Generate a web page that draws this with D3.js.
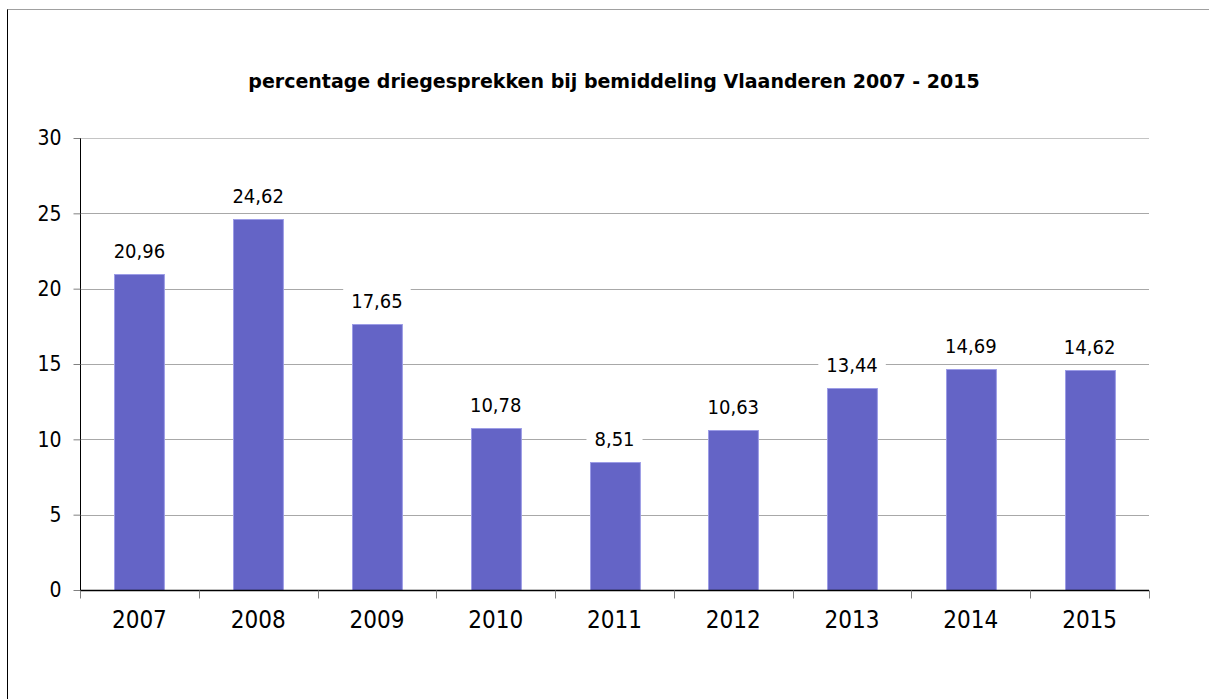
<!DOCTYPE html>
<html>
<head>
<meta charset="utf-8">
<style>
body { margin: 0; background: #fff; }
svg { display: block; font-family: "DejaVu Sans Condensed", "DejaVu Sans", sans-serif; font-stretch: condensed; }
</style>
</head>
<body>
<svg width="1209" height="699"></svg>
<script src="https://cdnjs.cloudflare.com/ajax/libs/d3/7.8.5/d3.min.js"></script>
<script>
var title = "percentage driegesprekken bij bemiddeling Vlaanderen 2007 - 2015";
var years = ["2007", "2008", "2009", "2010", "2011", "2012", "2013", "2014", "2015"];
var values = [20.96, 24.62, 17.65, 10.78, 8.51, 10.63, 13.44, 14.69, 14.62];
var yTicks = [0, 5, 10, 15, 20, 25, 30];

var svg = d3.select("svg");

var plotL = 80, plotR = 1149, plotT = 138, plotB = 590;

// frame
svg.append("rect")
    .attr("x", 7.5).attr("y", 9.5)
    .attr("width", 1220).attr("height", 720)
    .attr("fill", "#fff")
    .attr("stroke", "#a0a0a0");
svg.append("line")
    .attr("x1", 7.5).attr("x2", 7.5).attr("y1", 9.5).attr("y2", 700)
    .attr("stroke", "#000");

var x = d3.scaleBand().domain(years).range([plotL, plotR]).padding(0);
var y = d3.scaleLinear().domain([0, 30]).range([plotB, plotT]);

// gridlines
svg.append("g")
    .selectAll("line")
    .data(yTicks.slice(1))
    .enter().append("line")
    .attr("x1", plotL).attr("x2", plotR)
    .attr("y1", function(d) { return Math.round(y(d)) + 0.5; })
    .attr("y2", function(d) { return Math.round(y(d)) + 0.5; })
    .attr("stroke", function(d) { return d == 30 ? "#c4c4c4" : "#a8a8a8"; });

// bars
var bw = x.bandwidth() * 0.42;
svg.append("g")
    .selectAll("rect")
    .data(values)
    .enter().append("rect")
    .attr("x", function(d, i) { return Math.round(x(years[i]) + (x.bandwidth() - bw) / 2) + 0.5; })
    .attr("y", function(d) { return Math.round(y(d)) + 0.5; })
    .attr("width", bw)
    .attr("height", function(d) { return plotB - Math.round(y(d)); })
    .attr("fill", "#6464c6")
    .attr("stroke", "#9c9ce6")
    .attr("stroke-width", 1);

// value labels
var lab = svg.append("g")
    .selectAll("g")
    .data(values)
    .enter().append("g")
    .attr("transform", function(d, i) {
      return "translate(" + (x(years[i]) + x.bandwidth() / 2) + "," + (y(d) - 16) + ")";
    });
lab.append("text")
    .attr("text-anchor", "middle")
    .attr("font-size", 20)
    .attr("fill", "#000")
    .text(function(d) { return d.toFixed(2).replace(".", ","); });
lab.each(function() {
  var g = d3.select(this);
  var b = g.select("text").node().getBBox();
  g.insert("rect", "text")
    .attr("x", b.x - 8).attr("y", b.y - 4)
    .attr("width", b.width + 16).attr("height", b.height + 8)
    .attr("fill", "#fff");
});

// y axis
var yAxis = svg.append("g")
    .attr("transform", "translate(" + (plotL + 0.5) + ",0)")
    .call(d3.axisLeft(y).tickValues(yTicks).tickSize(7).tickPadding(12).tickFormat(d3.format("d")))
    .attr("font-family", null).attr("font-size", 21);
yAxis.select(".domain").attr("stroke", "#000").attr("d", "M0," + plotT + "V" + plotB);
yAxis.selectAll(".tick line").attr("stroke", "#808080");
yAxis.selectAll("text").attr("fill", "#000");

// x axis
var xAxis = svg.append("g")
    .attr("transform", "translate(0," + (plotB + 0.5) + ")")
    .call(d3.axisBottom(x).tickSize(0).tickPadding(20))
    .attr("font-family", null).attr("font-size", 24);
xAxis.select(".domain").attr("stroke", "#000").attr("stroke-width", 1.5).attr("d", "M" + plotL + ",0H" + plotR);
xAxis.selectAll("text").attr("fill", "#000");
xAxis.selectAll(".sep")
    .data(years.concat(["end"]))
    .enter().append("line")
    .attr("class", "sep")
    .attr("x1", function(d, i) { return Math.round(i < years.length ? x(d) : plotR) + 0.5; })
    .attr("x2", function(d, i) { return Math.round(i < years.length ? x(d) : plotR) + 0.5; })
    .attr("y1", 0).attr("y2", 8)
    .attr("stroke", "#808080");

// title
svg.append("text")
    .attr("x", 614).attr("y", 88)
    .attr("text-anchor", "middle")
    .attr("font-family", "'DejaVu Sans', sans-serif")
    .attr("font-stretch", "normal")
    .attr("font-size", 19)
    .attr("font-weight", "bold")
    .attr("fill", "#000")
    .text(title);
</script>
</body>
</html>
